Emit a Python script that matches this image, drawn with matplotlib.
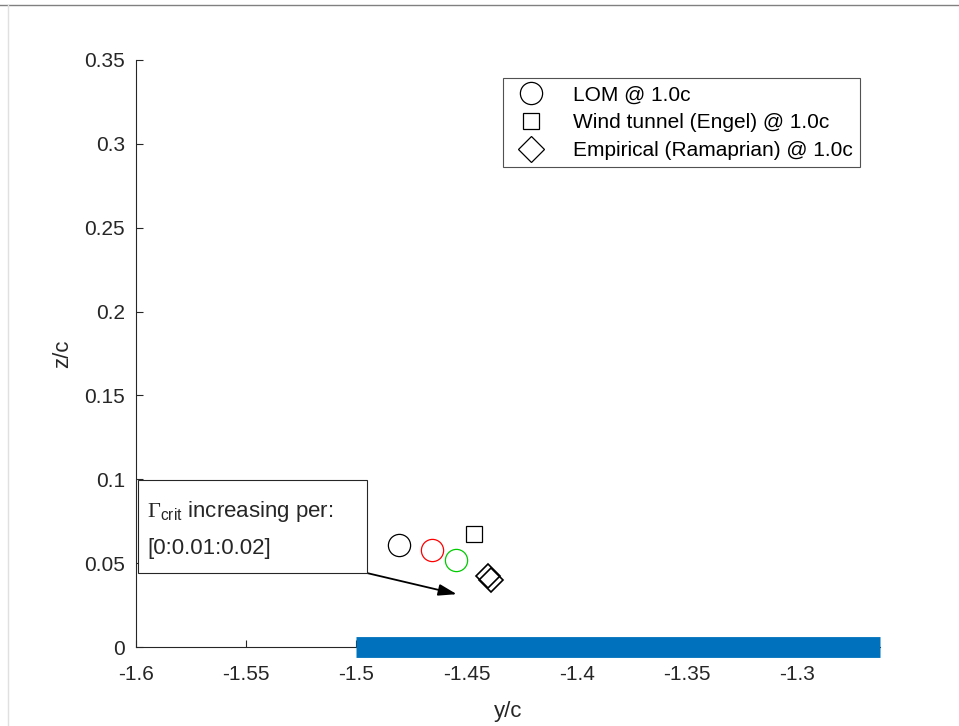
import matplotlib
matplotlib.use("Agg")
import matplotlib.pyplot as plt
from matplotlib.lines import Line2D
from matplotlib.patches import Rectangle

plt.rcParams['font.family'] = ['Liberation Sans', 'DejaVu Sans']
plt.rcParams['mathtext.fontset'] = 'custom'
plt.rcParams['mathtext.rm'] = 'Liberation Serif'
plt.rcParams['mathtext.sf'] = 'Liberation Sans'

# Data
lom_y = [-1.4807, -1.4657, -1.4548]
lom_z = [0.0608, 0.0578, 0.0519]
lom_colors = ['black', 'red', '#00cc00']
engel_y = [-1.4466]
engel_z = [0.0674]
rama_y = [-1.4405, -1.4390]
rama_z = [0.0422, 0.0400]
wing_y = [-1.5, -1.2625]
wing_z = [0.0, 0.0]

xticks = [-1.6, -1.55, -1.5, -1.45, -1.4, -1.35, -1.3]
xticklabels = ['-1.6', '-1.55', '-1.5', '-1.45', '-1.4', '-1.35', '-1.3']
yticks = [0, 0.05, 0.1, 0.15, 0.2, 0.25, 0.3, 0.35]
yticklabels = ['0', '0.05', '0.1', '0.15', '0.2', '0.25', '0.3', '0.35']

fig = plt.figure(figsize=(9.59, 7.26), dpi=100)
fig.patch.set_facecolor('white')
ax = fig.add_axes([0.1418, 0.1088, 0.9176 - 0.1418, 0.9174 - 0.1088])

ax.plot(wing_y, wing_z, color='#0072BD', linewidth=15, solid_capstyle='butt', clip_on=False, zorder=3)

for y, z, c in zip(lom_y, lom_z, lom_colors):
    ax.plot([y], [z], marker='o', markersize=16, markerfacecolor='none', markeredgecolor=c,
            markeredgewidth=0.9, linestyle='none', zorder=3)
ax.plot(engel_y, engel_z, marker='s', markersize=12, markerfacecolor='none', markeredgecolor='black',
        markeredgewidth=0.9, linestyle='none', zorder=3)
ax.plot(rama_y, rama_z, marker='D', markersize=12, markerfacecolor='none', markeredgecolor='black',
        markeredgewidth=1.2, linestyle='none', zorder=3)

ax.set_xlim(-1.6, -1.2625)
ax.set_ylim(0, 0.35)
ax.set_xticks(xticks)
ax.set_xticklabels(xticklabels)
ax.set_yticks(yticks)
ax.set_yticklabels(yticklabels)
ax.tick_params(direction='in', length=5, width=0.8, labelsize=15, colors='#262626')
ax.tick_params(axis='x', pad=13)
ax.tick_params(axis='y', pad=8)
for s in ['top', 'right']:
    ax.spines[s].set_visible(False)
for s in ['left', 'bottom']:
    ax.spines[s].set_color('#262626')
    ax.spines[s].set_linewidth(0.8)
ax.set_xlabel('y/c', fontsize=16, color='#262626', labelpad=12)
ax.set_ylabel('z/c', fontsize=16, color='#262626', labelpad=8)

handles = [
    Line2D([], [], marker='o', markersize=16, markerfacecolor='none', markeredgecolor='black', linestyle='none', markeredgewidth=0.9),
    Line2D([], [], marker='s', markersize=12, markerfacecolor='none', markeredgecolor='black', linestyle='none', markeredgewidth=0.9),
    Line2D([], [], marker='D', markersize=13, markerfacecolor='none', markeredgecolor='black', linestyle='none', markeredgewidth=0.9),
]
labels = ['LOM @ 1.0c', 'Wind tunnel (Engel) @ 1.0c', 'Empirical (Ramaprian) @ 1.0c']
leg = ax.legend(handles, labels, loc='upper right', bbox_to_anchor=(0.973, 0.969), fontsize=15,
                frameon=True, fancybox=False, edgecolor='#262626', handlelength=2.0,
                handletextpad=1.0, labelspacing=0.42, borderpad=0.35, borderaxespad=0)
leg.get_frame().set_linewidth(0.8)

# Annotation textbox with arrow
box_x0, box_x1, box_y0, box_y1 = -1.5991, -1.4952, 0.0441, 0.0996
ax.add_patch(Rectangle((box_x0, box_y0), box_x1 - box_x0, box_y1 - box_y0, facecolor='white',
                       edgecolor='#262626', linewidth=0.8, zorder=5))
ax.text(-1.5950, 0.0805, r'$\mathrm{\Gamma}_{\mathsf{crit}}$' + ' increasing per:', fontsize=16,
        va='center', ha='left', color='#262626', zorder=6)
ax.text(-1.5950, 0.0590, '[0:0.01:0.02]', fontsize=16, va='center', ha='left', color='#262626', zorder=6)
ax.annotate('', xy=(-1.4545, 0.0315), xytext=(box_x1, box_y0),
            arrowprops=dict(arrowstyle='-|>,head_length=1.1,head_width=0.35', color='black', lw=1.3,
                            shrinkA=0, shrinkB=0))

# screenshot border lines
fig.add_artist(Line2D([0, 1], [1 - 5/726, 1 - 5/726], color='#808080', linewidth=1))
fig.add_artist(Line2D([8/959, 8/959], [0, 1 - 5/726], color='#e0e0e0', linewidth=1))

fig.savefig('out.png', dpi=100)
